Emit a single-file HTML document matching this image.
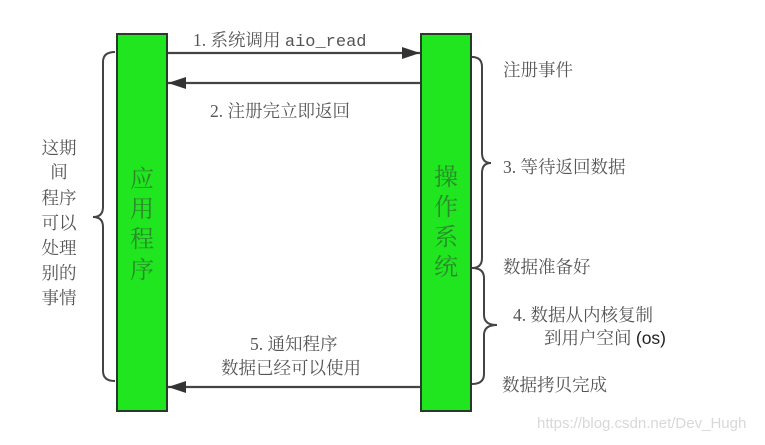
<!DOCTYPE html>
<html><head><meta charset="utf-8"><style>
body{margin:0;background:#fff;}
svg text{font-family:"Liberation Serif","Noto Serif CJK SC",serif;fill:#555;}
</style></head><body>
<svg width="765" height="440" viewBox="0 0 765 440" xmlns="http://www.w3.org/2000/svg">
<defs><marker id="b" markerWidth="18" markerHeight="12" refX="18" refY="6" orient="auto" markerUnits="userSpaceOnUse"><path d="M0,0 L18,6 L0,12 Z" fill="#333"/></marker></defs>
<rect x="117" y="34" width="50" height="377" fill="#1fe61f" stroke="#2a3a2a" stroke-width="2"/>
<rect x="421" y="34" width="50" height="377" fill="#1fe61f" stroke="#2a3a2a" stroke-width="2"/>
<g font-size="24" text-anchor="middle">
<text x="142" y="187" style="fill:#2a8a2a">应</text><text x="142" y="217" style="fill:#2a8a2a">用</text><text x="142" y="247" style="fill:#2a8a2a">程</text><text x="142" y="278" style="fill:#2a8a2a">序</text>
<text x="446" y="185" style="fill:#2a8a2a">操</text><text x="446" y="215" style="fill:#2a8a2a">作</text><text x="446" y="245" style="fill:#2a8a2a">系</text><text x="446" y="275" style="fill:#2a8a2a">统</text>
</g>
<g stroke="#444" stroke-width="2.2" fill="none">
<line x1="168" y1="53" x2="420" y2="53" marker-end="url(#b)"/>
<line x1="420" y1="83" x2="168" y2="83" marker-end="url(#b)"/>
<line x1="420" y1="387" x2="168" y2="387" marker-end="url(#b)"/>
<path d="M115,52 Q103,52 103,62 L103,207 Q103,217 93,217 Q103,217 103,227 L103,371 Q103,381 115,381" stroke-width="2"/>
<path d="M472,57 Q482,57 482,67 L482,153 Q482,163 491,163 Q482,163 482,173 L482,258 Q482,268 472,268" stroke-width="2"/>
<path d="M472,268 Q484,268 484,278 L484,315 Q484,325 497,325 Q484,325 484,335 L484,374 Q484,384 472,384" stroke-width="2"/>
</g>
<g font-size="17.5">
<text x="193" y="46">1. 系统调用 <tspan font-family="Liberation Mono" font-size="17">aio_read</tspan></text>
<text x="210" y="117">2. 注册完立即返回</text>
<text x="250" y="350">5. 通知程序</text>
<text x="221" y="374">数据已经可以使用</text>
<g text-anchor="middle">
<text x="59" y="154">这期</text><text x="59" y="178">间</text><text x="59" y="204">程序</text><text x="59" y="229">可以</text><text x="59" y="254">处理</text><text x="59" y="279">别的</text><text x="59" y="304">事情</text>
</g>
<text x="503" y="76">注册事件</text>
<text x="503" y="173">3. 等待返回数据</text>
<text x="503" y="273">数据准备好</text>
<text x="513" y="321">4. 数据从内核复制</text>
<text x="544" y="344">到用户空间 <tspan style="fill:#222;font-family:'Liberation Sans',sans-serif">(os)</tspan></text>
<text x="502" y="391">数据拷贝完成</text>
</g>
<text x="537" y="428" font-size="15" style="fill:#d8d8d8;font-family:'Liberation Sans',sans-serif">https://blog.csdn.net/Dev_Hugh</text>
</svg>
</body></html>
